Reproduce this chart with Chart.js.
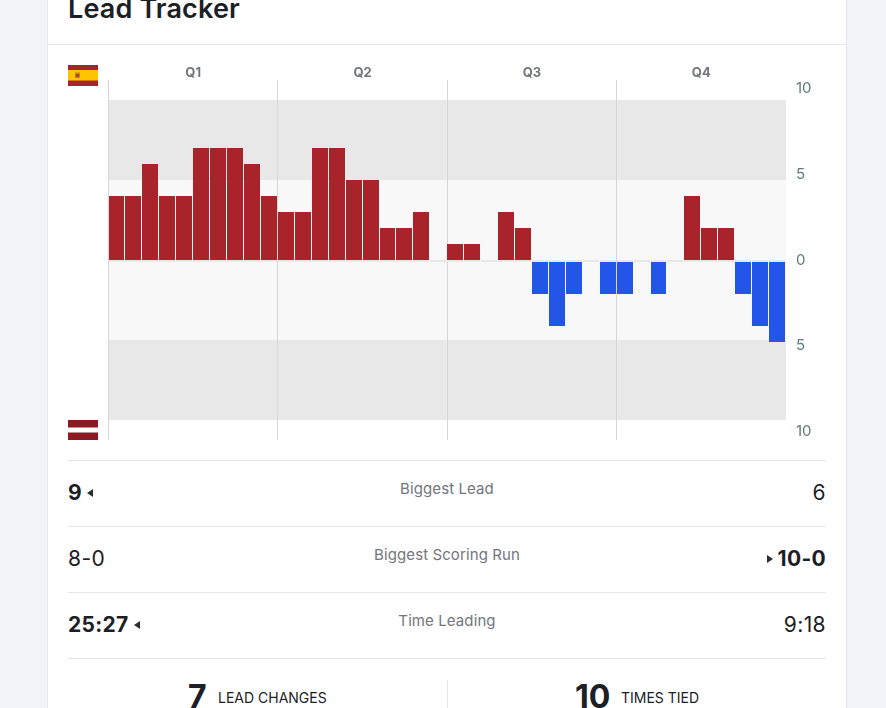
<!DOCTYPE html>
<html>
<head>
<meta charset="utf-8">
<title>Lead Tracker</title>
<script src="https://cdn.jsdelivr.net/npm/chart.js@4"></script>
<style>
    html, body { margin: 0; height: 100%; overflow: hidden; background: #f1f3f8; }
    body { position: relative; font-family: Inter, sans-serif; color: #1c2026; }
    #card { position: absolute; left: 47px; top: -20px; width: 798px; height: 760px; background: #fff; border: 1px solid #e6e7ea; }
    #title { position: absolute; left: 68px; top: -7px; font-size: 27px; line-height: 32px; font-weight: 600; letter-spacing: 0.15px; white-space: nowrap; }
    .rule { position: absolute; height: 1px; background: #e6e6e6; }
    #chartBox { position: absolute; left: 68px; top: 60px; width: 758px; height: 380px; }
    .flag { position: absolute; left: 68px; width: 30px; height: 21px; }
    .stat { position: absolute; font-size: 21px; line-height: 28px; white-space: nowrap; letter-spacing: 0.4px; }
    .stat.win { font-weight: 700; letter-spacing: 0.3px; }
    .stat.left { left: 68px; }
    .stat.right { right: 60px; }
    .statName { position: absolute; left: 68px; width: 758px; text-align: center; font-size: 15px; line-height: 20px; color: #73767c; letter-spacing: 0.1px; }
    .arrow { display: inline-block; width: 0; height: 0; border-top: 4px solid transparent; border-bottom: 4px solid transparent; vertical-align: 3px; }
    .arrow.toLeft { border-right: 6px solid #2a2e33; margin-left: 5px; }
    .arrow.toRight { border-left: 6px solid #2a2e33; margin-right: 5px; }
    .bigNum { position: absolute; font-size: 32px; line-height: 40px; font-weight: 700; white-space: nowrap; }
    .bigLabel { position: absolute; font-size: 14px; line-height: 18px; white-space: nowrap; }
</style>
</head>
<body>
<div id="card"></div>
<div id="title">Lead Tracker</div>
<div class="rule" style="left:48px;top:44px;width:798px"></div>

<svg class="flag" style="top:65px" viewBox="0 0 30 21">
    <rect width="30" height="21" fill="#a8232a"/>
    <rect y="5" width="30" height="10.5" fill="#ffc400"/>
    <rect x="7" y="7.5" width="5" height="5.5" fill="#c9852a"/>
    <rect x="8" y="9" width="3" height="3" fill="#a8432a"/>
</svg>
<svg class="flag" style="top:420px;height:20px" viewBox="0 0 30 20">
    <rect width="30" height="20" fill="#8c1a22"/>
    <rect y="7.5" width="30" height="5" fill="#fff"/>
</svg>
<div id="chartBox"><canvas id="leadChart"></canvas></div>

<div class="rule" style="left:68px;top:460px;width:758px"></div>
<div class="stat left win" style="top:479px">9<span class="arrow toLeft"></span></div>
<div class="statName" style="top:479px">Biggest Lead</div>
<div class="stat right" style="top:479px">6</div>

<div class="rule" style="left:68px;top:526px;width:758px"></div>
<div class="stat left" style="top:545px">8-0</div>
<div class="statName" style="top:545px">Biggest Scoring Run</div>
<div class="stat right win" style="top:545px"><span class="arrow toRight"></span>10-0</div>

<div class="rule" style="left:68px;top:592px;width:758px"></div>
<div class="stat left win" style="top:611px">25:27<span class="arrow toLeft"></span></div>
<div class="statName" style="top:611px">Time Leading</div>
<div class="stat right" style="top:611px">9:18</div>

<div class="rule" style="left:68px;top:658px;width:758px"></div>
<div class="rule" style="left:447px;top:680px;width:1px;height:28px"></div>
<div class="bigNum" style="left:188px;top:677px">7</div>
<div class="bigLabel" style="left:218px;top:689px">LEAD CHANGES</div>
<div class="bigNum" style="left:575px;top:677px">10</div>
<div class="bigLabel" style="left:621px;top:689px">TIMES TIED</div>

<script>
// Chart data, one value per scoring stretch (10 per quarter)
const quarters = ['Q1', 'Q2', 'Q3', 'Q4'];
const spainLead = [4, 4, 6, 4, 4, 7, 7, 7, 6, 4, 3, 3, 7, 7, 5, 5, 2, 2, 3, null, 1, 1, null, 3, 2, null, null, null, null, null, null, null, null, null, 4, 2, 2, null, null, null];
const latviaLead = [null, null, null, null, null, null, null, null, null, null, null, null, null, null, null, null, null, null, null, null, null, null, null, null, null, -2, -4, -2, null, -2, -2, null, -2, null, null, null, null, -2, -4, -5];
const yTicks = [-10, -5, 0, 5, 10];
const bandEdges = [-10, -5, 0, 5, 10];
const stretches = spainLead.map((_, i) => i);

// Function to paint the grey bands behind the chart
const bandsPlugin = {
    id: 'bands',
    beforeDraw(chart) {
        const { ctx, chartArea, scales } = chart;
        const y = scales.y;
        const colors = ['#e8e8e8', '#f8f8f8', '#f8f8f8', '#e8e8e8'];
        colors.forEach((color, i) => {
            const top = y.getPixelForValue(bandEdges[i + 1]);
            const bottom = y.getPixelForValue(bandEdges[i]);
            ctx.fillStyle = color;
            ctx.fillRect(chartArea.left, top, chartArea.right - chartArea.left, bottom - top);
        });
    }
};

// Function to snap the bars to whole pixels and draw the zero strip
const barsPlugin = {
    id: 'snapBars',
    afterDatasetsUpdate(chart) {
        const cell = chart.scales.x.width / stretches.length;
        chart.data.datasets.forEach((_, d) => {
            chart.getDatasetMeta(d).data.forEach(bar => {
                const left = Math.round(bar.x - cell / 2);
                const right = Math.round(bar.x + cell / 2) - 1;
                bar.x = (left + right) / 2;
                bar.width = right - left;
            });
        });
    },
    beforeDatasetsDraw(chart) {
        const { ctx, scales } = chart;
        const top = scales.y.getPixelForValue(0);
        const bottom = scales.yAway.getPixelForValue(0);
        const cell = scales.x.width / stretches.length;
        ctx.fillStyle = '#e8e8e8';
        stretches.forEach(i => {
            const x = scales.x.getPixelForValue(i);
            const left = Math.round(x - cell / 2);
            const right = Math.round(x + cell / 2) - 1;
            ctx.fillRect(left, top, right - left, bottom - top);
        });
    }
};

new Chart(document.getElementById('leadChart'), {
    type: 'bar',
    data: {
        labels: stretches,
        datasets: [
            { label: 'Spain', data: spainLead, yAxisID: 'y', backgroundColor: '#a8232a' },
            { label: 'Latvia', data: latviaLead, yAxisID: 'yAway', backgroundColor: '#2356e8' }
        ]
    },
    options: {
        responsive: true,
        maintainAspectRatio: false,
        animation: false,
        layout: { padding: { left: 40.5, top: 0, right: 0, bottom: 0 } },
        datasets: { bar: { grouped: false, barPercentage: 1, categoryPercentage: 1, borderWidth: 0, inflateAmount: 0 } },
        plugins: { legend: { display: false }, tooltip: { enabled: false } },
        scales: {
            x: { display: false, offset: true },
            quarter: {
                axis: 'x',
                type: 'category',
                position: 'top',
                labels: quarters,
                offset: true,
                afterFit(scale) { scale.height = 20; },
                border: { display: false },
                grid: {
                    offset: true,
                    drawTicks: false,
                    // no line after Q4
                    color: ctx => ctx.tick ? '#d6d6d6' : 'transparent'
                },
                ticks: {
                    color: '#73767c',
                    padding: -1,
                    maxRotation: 0,
                    autoSkip: false,
                    font: { family: 'Inter', size: 13, weight: '700' }
                }
            },
            // 16px per point, red side grows from the zero line
            y: { display: false, min: -11.25, max: 11.25 },
            // same scale, 2px lower, blue side hangs under the zero strip
            yAway: { display: false, min: -11.125, max: 11.375 },
            yLabels: {
                position: 'right',
                min: -10.5,
                max: 10.5,
                afterFit(scale) {
                    scale.width = 40;
                    scale.paddingTop = 0;
                    scale.paddingBottom = 0;
                },
                afterBuildTicks(scale) { scale.ticks = yTicks.map(value => ({ value })); },
                border: { display: false },
                grid: { display: false, drawTicks: false },
                ticks: {
                    color: '#5f7a7c',
                    padding: 10,
                    callback: value => Math.abs(value),
                    font: { family: 'Inter', size: 15 }
                }
            }
        }
    },
    plugins: [bandsPlugin, barsPlugin]
});
</script>
</body>
</html>
